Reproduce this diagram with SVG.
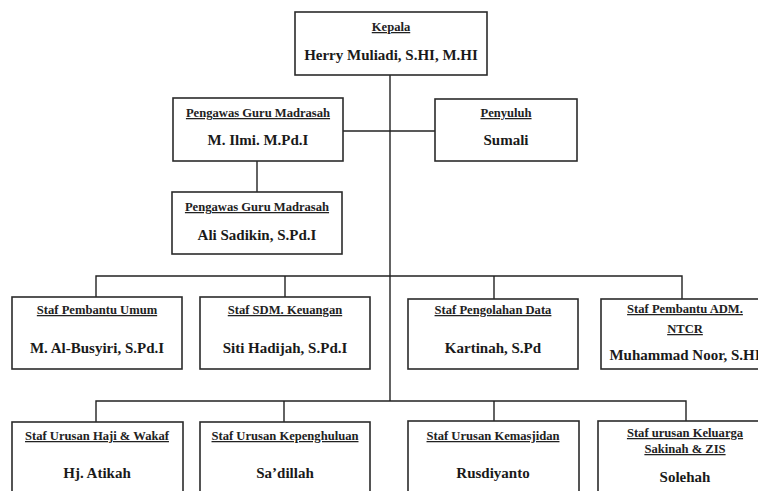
<svg xmlns="http://www.w3.org/2000/svg" width="758" height="491" viewBox="0 0 758 491">
<style>
.box{fill:#fff;stroke:#2b2b2b;stroke-width:1.6}
.ln{fill:none;stroke:#222;stroke-width:1.4}
.t{font-family:"Liberation Serif","Times New Roman",serif;font-weight:bold;font-size:12.6px;fill:#222;text-anchor:middle;text-decoration:underline}
.n{font-family:"Liberation Serif","Times New Roman",serif;font-weight:bold;font-size:15px;fill:#1a1a1a;text-anchor:middle}
</style>
<rect width="758" height="491" fill="#fff"/>
<g id="connectors">
<path class="ln" d="M390 75 V401"/>
<path class="ln" d="M343 131 H435"/>
<path class="ln" d="M257 161 V192"/>
<path class="ln" d="M96 297 V276 H682 V299"/>
<path class="ln" d="M285 276 V297"/>
<path class="ln" d="M494 276 V299"/>
<path class="ln" d="M96 422 V401 H686 V421"/>
<path class="ln" d="M284 401 V422"/>
<path class="ln" d="M494 401 V421"/>
</g>
<g id="kepala"><rect class="box" x="295" y="12" width="192" height="63"/>
<text class="t" x="391" y="31">Kepala</text><text class="n" x="391" y="60">Herry Muliadi, S.HI, M.HI</text></g>
<g id="pengawas1"><rect class="box" x="173" y="98" width="170" height="63"/>
<text class="t" x="258" y="117">Pengawas Guru Madrasah</text><text class="n" x="258" y="145">M. Ilmi. M.Pd.I</text></g>
<g id="penyuluh"><rect class="box" x="435" y="99" width="142" height="62"/>
<text class="t" x="506" y="117">Penyuluh</text><text class="n" x="506" y="145">Sumali</text></g>
<g id="pengawas2"><rect class="box" x="172" y="192" width="170" height="62"/>
<text class="t" x="257" y="211">Pengawas Guru Madrasah</text><text class="n" x="257" y="240">Ali Sadikin, S.Pd.I</text></g>
<g id="staf-umum"><rect class="box" x="12" y="297" width="170" height="72"/>
<text class="t" x="97" y="314">Staf Pembantu Umum</text><text class="n" x="97" y="353">M. Al-Busyiri, S.Pd.I</text></g>
<g id="staf-sdm"><rect class="box" x="200" y="297" width="170" height="72"/>
<text class="t" x="285" y="314">Staf SDM. Keuangan</text><text class="n" x="285" y="353">Siti Hadijah, S.Pd.I</text></g>
<g id="staf-data"><rect class="box" x="408" y="299" width="170" height="70"/>
<text class="t" x="493" y="314">Staf Pengolahan Data</text><text class="n" x="493" y="353">Kartinah, S.Pd</text></g>
<g id="staf-ntcr"><rect class="box" x="601" y="299" width="168" height="70"/>
<text class="t" x="685" y="313">Staf Pembantu ADM.</text><text class="t" x="685" y="333">NTCR</text><text class="n" x="685" y="360">Muhammad Noor, S.HI</text></g>
<g id="staf-haji"><rect class="box" x="12" y="422" width="171" height="80"/>
<text class="t" x="97" y="440">Staf Urusan Haji &amp; Wakaf</text><text class="n" x="97" y="478">Hj. Atikah</text></g>
<g id="staf-kepenghuluan"><rect class="box" x="200" y="422" width="170" height="80"/>
<text class="t" x="285" y="440">Staf Urusan Kepenghuluan</text><text class="n" x="285" y="478">Sa’dillah</text></g>
<g id="staf-kemasjidan"><rect class="box" x="408" y="421" width="171" height="80"/>
<text class="t" x="493" y="440">Staf Urusan Kemasjidan</text><text class="n" x="493" y="478">Rusdiyanto</text></g>
<g id="staf-keluarga"><rect class="box" x="598" y="421" width="174" height="80"/>
<text class="t" x="685" y="437">Staf urusan Keluarga</text><text class="t" x="685" y="453">Sakinah &amp; ZIS</text><text class="n" x="685" y="482">Solehah</text></g>
</svg>
